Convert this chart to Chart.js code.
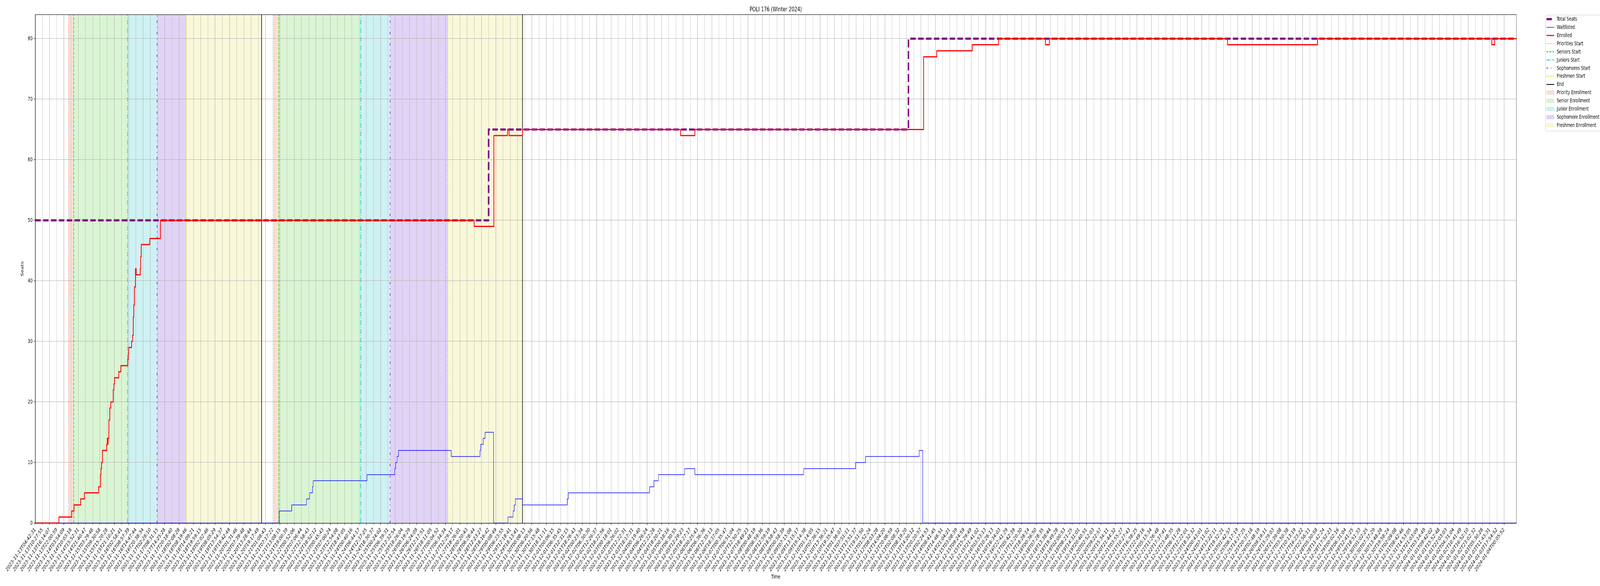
<!DOCTYPE html>
<html>
<head>
<meta charset="utf-8">
<title>POLI 176 (Winter 2024)</title>
<script src="https://cdn.jsdelivr.net/npm/chart.js@4.4.1/dist/chart.umd.min.js"></script>
<style>
  html, body { margin: 0; padding: 0; background: #ffffff; overflow: hidden; }
  #viewport { width: 100vw; height: 100vh; overflow: hidden; }
  #wrap { width: 6000px; height: 1500px; transform-origin: 0 0; }
</style>
</head>
<body>
<div id="viewport"><div id="wrap"><canvas id="seats-plot" width="6000" height="1500"></canvas></div></div>
<script>
const chartTitle = 'POLI 176 (Winter 2024)'

// one label per tick, ticks are evenly spaced (x = tick index)
const tickLabels = [
  '2023-11-13T04:42:31', '2023-11-13T10:27:55', '2023-11-13T16:14:07', '2023-11-13T22:00:59',
  '2023-11-14T03:54:09', '2023-11-14T10:03:18', '2023-11-14T15:52:31', '2023-11-14T21:40:47',
  '2023-11-15T03:29:46', '2023-11-15T09:30:58', '2023-11-15T15:20:28', '2023-11-15T21:10:21',
  '2023-11-16T02:58:41', '2023-11-16T08:57:39', '2023-11-16T14:47:44', '2023-11-16T20:38:34',
  '2023-11-17T02:28:10', '2023-11-17T08:31:15', '2023-11-17T14:25:28', '2023-11-17T20:18:40',
  '2023-11-18T02:08:28', '2023-11-18T08:19:46', '2023-11-18T14:09:21', '2023-11-18T19:59:15',
  '2023-11-19T02:02:46', '2023-11-19T08:05:29', '2023-11-19T13:54:37', '2023-11-19T19:42:49',
  '2023-11-20T01:31:46', '2023-11-20T07:39:48', '2023-11-20T13:28:44', '2023-11-20T19:17:49',
  '2023-11-21T01:08:43', '2023-11-21T07:17:22', '2023-11-21T13:08:15', '2023-11-21T19:00:39',
  '2023-11-22T00:52:06', '2023-11-22T07:06:44', '2023-11-22T12:58:43', '2023-11-22T18:52:12',
  '2023-11-23T00:45:43', '2023-11-23T07:00:24', '2023-11-23T12:54:08', '2023-11-23T18:47:05',
  '2023-11-24T00:40:16', '2023-11-24T06:44:17', '2023-11-24T12:37:25', '2023-11-24T18:30:37',
  '2023-11-25T00:24:02', '2023-11-25T06:39:31', '2023-11-25T12:32:54', '2023-11-25T18:26:04',
  '2023-11-26T00:19:29', '2023-11-26T06:24:09', '2023-11-26T12:17:51', '2023-11-26T18:11:05',
  '2023-11-27T00:04:52', '2023-11-27T06:34:34', '2023-11-27T12:29:17', '2023-11-27T18:26:01',
  '2023-11-28T00:20:43', '2023-11-28T06:28:44', '2023-11-28T12:23:27', '2023-11-28T18:16:42',
  '2023-11-29T00:08:49', '2023-11-29T06:23:55', '2023-11-29T12:18:41', '2023-11-29T18:13:41',
  '2023-11-30T00:08:13', '2023-11-30T06:20:56', '2023-11-30T12:15:48', '2023-11-30T18:11:11',
  '2023-12-01T00:06:15', '2023-12-01T06:35:45', '2023-12-01T12:31:15', '2023-12-01T18:26:43',
  '2023-12-02T00:23:34', '2023-12-02T06:30:30', '2023-12-02T12:26:37', '2023-12-02T18:22:56',
  '2023-12-03T00:18:01', '2023-12-03T06:26:02', '2023-12-03T12:22:31', '2023-12-03T18:17:31',
  '2023-12-04T00:19:40', '2023-12-04T06:26:24', '2023-12-04T12:22:28', '2023-12-04T18:20:21',
  '2023-12-05T00:18:16', '2023-12-05T06:30:55', '2023-12-05T12:29:23', '2023-12-05T18:27:17',
  '2023-12-06T00:25:43', '2023-12-06T06:36:36', '2023-12-06T12:35:13', '2023-12-06T18:37:05',
  '2023-12-07T00:35:47', '2023-12-07T06:51:04', '2023-12-07T12:50:25', '2023-12-07T18:49:23',
  '2023-12-08T00:48:19', '2023-12-08T06:59:36', '2023-12-08T12:59:19', '2023-12-08T18:58:43',
  '2023-12-09T00:58:39', '2023-12-09T07:15:08', '2023-12-09T13:15:17', '2023-12-09T19:14:38',
  '2023-12-10T01:14:05', '2023-12-10T07:36:15', '2023-12-10T13:36:21', '2023-12-10T19:35:47',
  '2023-12-11T01:36:07', '2023-12-11T07:51:11', '2023-12-11T13:51:37', '2023-12-11T19:51:50',
  '2023-12-12T01:52:24', '2023-12-12T08:03:28', '2023-12-12T14:04:20', '2023-12-12T20:06:59',
  '2023-12-13T02:08:32', '2023-12-13T08:19:20', '2023-12-13T14:20:12', '2023-12-13T20:20:57',
  '2023-12-14T02:24:53', '2023-12-14T08:41:45', '2023-12-14T14:46:51', '2023-12-14T21:04:21',
  '2023-12-15T03:08:39', '2023-12-15T09:24:59', '2023-12-15T15:29:49', '2023-12-15T21:41:02',
  '2023-12-16T03:53:13', '2023-12-16T10:26:13', '2023-12-16T16:34:03', '2023-12-16T22:41:29',
  '2023-12-17T05:42:39', '2023-12-17T12:20:30', '2023-12-17T18:28:14', '2023-12-18T00:36:50',
  '2023-12-18T07:28:35', '2023-12-18T13:38:44', '2023-12-18T19:49:28', '2023-12-19T02:00:53',
  '2023-12-19T08:21:25', '2023-12-19T14:31:01', '2023-12-19T20:40:51', '2023-12-20T02:52:03',
  '2023-12-20T09:22:57', '2023-12-20T15:34:11', '2023-12-20T21:44:32', '2023-12-21T03:55:27',
  '2023-12-21T10:27:43', '2023-12-21T16:38:25', '2023-12-21T22:49:16', '2023-12-22T05:15:34',
  '2023-12-22T11:26:48', '2023-12-22T17:37:41', '2023-12-22T23:48:35', '2023-12-23T06:11:28',
  '2023-12-23T12:22:01', '2023-12-23T18:32:32', '2023-12-24T00:43:01', '2023-12-24T07:11:02',
  '2023-12-24T13:22:11', '2023-12-24T19:32:21', '2023-12-25T01:42:57', '2023-12-25T08:17:19',
  '2023-12-25T14:27:25', '2023-12-25T20:37:18', '2023-12-26T02:48:19', '2023-12-26T09:19:11',
  '2023-12-26T15:29:03', '2023-12-26T21:39:08', '2023-12-27T03:50:38', '2023-12-27T10:13:19',
  '2023-12-27T16:23:22', '2023-12-27T22:56:11', '2023-12-28T05:30:58', '2023-12-28T11:42:24',
  '2023-12-28T17:52:23', '2023-12-29T00:02:16', '2023-12-29T06:31:04', '2023-12-29T12:41:25',
  '2023-12-29T18:51:33', '2023-12-30T01:02:25', '2023-12-30T07:37:29', '2023-12-30T13:48:28',
  '2023-12-30T19:58:24', '2023-12-31T02:09:08', '2023-12-31T08:42:46', '2023-12-31T14:53:05',
  '2023-12-31T21:03:09', '2024-01-01T03:14:49', '2024-01-01T09:42:02', '2024-01-01T15:52:48',
  '2024-01-01T22:03:03', '2024-01-02T04:31:04', '2024-01-02T10:41:49', '2024-01-02T16:52:10',
  '2024-01-02T23:02:32', '2024-01-03T05:30:28', '2024-01-03T11:43:31', '2024-01-03T17:54:52',
  '2024-01-04T00:05:52', '2024-01-04T06:41:22'
]

// step series: value becomes Y at position X (x in tick index units)
const totalSeatsX = [0, 62.97, 121.28, 205.7]
const totalSeatsY = [50, 65, 80, 80]

const enrolledX = [0, 3.29, 5.07, 5.39, 6.31, 6.84, 8.81, 9.07, 9.14, 9.21, 9.34, 9.92, 10.0, 10.06, 10.12, 10.23,
  10.36, 10.49, 10.83, 10.93, 11.02, 11.61, 11.89, 12.85, 12.93, 12.99, 13.38, 13.52, 13.62, 13.69, 13.78, 13.93,
  14.03, 14.59, 14.65, 14.73, 15.92, 17.39, 60.97, 63.70, 65.60, 65.81, 67.68, 89.63, 91.62, 123.38, 125.2,
  130.15, 133.8, 140.3, 140.85, 165.6, 178.1, 202.3, 202.7, 205.7]
const enrolledY = [0, 1, 2, 3, 4, 5, 6, 8, 9, 10, 12, 13, 14, 13, 14, 17,
  19, 20, 22, 23, 24, 25, 26, 27, 28, 29, 30, 31, 34, 36, 39, 42,
  41, 42, 44, 46, 47, 50, 49, 64, 65, 64, 65, 64, 65, 77, 78,
  79, 80, 79, 80, 79, 80, 79, 80, 80]

const waitlistedX = [0, 33.88, 35.62, 37.68, 38.12, 38.51, 38.61, 46.09, 49.94, 50.06, 50.25, 50.45, 57.78,
  61.78, 61.88, 62.22, 62.48, 63.65, 65.65, 66.38, 66.53, 66.69, 67.68, 73.89, 74.03, 85.33, 85.93, 86.56,
  90.2, 91.62, 106.73, 113.94, 115.33, 122.77, 123.26, 205.7]
const waitlistedY = [0, 2, 3, 4, 5, 6, 7, 8, 9, 10, 11, 12, 11,
  12, 13, 14, 15, 0, 1, 2, 3, 4, 3, 4, 5, 6, 7, 8,
  9, 8, 9, 10, 11, 12, 0, 0]

// enrollment phase boundaries, one entry per enrollment pass
const prioritiesStart = [4.65, 33.13]
const seniorsStart = [5.35, 33.83]
const juniorsStart = [12.82, 45.21]
const sophomoresStart = [16.92, 49.29]
const freshmenStart = [20.96, 57.29]
const enrollmentEnd = [31.44, 67.68]

const phaseLineNames = ['Priorities Start', 'Seniors Start', 'Juniors Start', 'Sophomores Start', 'Freshmen Start', 'End']
const phaseSpanNames = ['Priority Enrollment', 'Senior Enrollment', 'Junior Enrollment', 'Sophomore Enrollment', 'Freshmen Enrollment']

const xMax = 205.7
const yMax = 84

const phaseLineStyles = [
  {color: '#ee6a30', dash: [2.1, 3.4]},
  {color: '#33cc11', dash: [7.7, 3.3]},
  {color: '#00c5cd', dash: [13.3, 3.3, 2.1, 3.3]},
  {color: '#6a2ad6', dash: [6.2, 10.4, 2.1, 10.4]},
  {color: '#dede2a', dash: [6.2, 2.1, 2.1, 2.1]},
  {color: '#000000', dash: []}
]
const phaseSpanFills = ['#f7e0d5', '#daf5d3', '#cef1f3', '#e1d3f5', '#f8f8da']
const phaseSpanEdges = ['#f1cdbb', '#c4eeb8', '#b4e8eb', '#d3bdf0', '#f0f0c0']

// the figure is laid out on a 6000x1500 sheet, then fitted to the window
const sheetW = 6000
const sheetH = 1500
const fitX = window.innerWidth / sheetW
const fitY = window.innerHeight / sheetH
document.getElementById('wrap').style.transform = 'scale(' + fitX + ',' + fitY + ')'

function pts(xs, ys) {
  return xs.map((x, i) => ({x: x, y: ys[i]}))
}

function stepSet(label, xs, ys, color, width, dash, order, rank) {
  return {
    label: label, data: pts(xs, ys), stepped: true,
    borderColor: color, borderWidth: width, borderDash: dash,
    borderJoinStyle: 'round', borderCapStyle: 'butt',
    pointRadius: 0, fill: false, order: order, legendRank: rank, legendKind: 'line'
  }
}

function build_datasets() {
  let sets = []
  sets.push(stepSet('Enrolled', enrolledX, enrolledY, '#ff0000', 2.8, [], 0, 2))
  sets.push(stepSet('Waitlisted', waitlistedX, waitlistedY, '#0000ff', 1.4, [], 1, 1))
  sets.push(stepSet('Total Seats', totalSeatsX, totalSeatsY, '#800080', 5.56, [20.6, 8.9], 2, 0))

  const bounds = [prioritiesStart, seniorsStart, juniorsStart, sophomoresStart, freshmenStart, enrollmentEnd]
  bounds.forEach((xs, k) => {
    xs.forEach((x, i) => {
      sets.push({
        label: phaseLineNames[k], data: [{x: x, y: 0}, {x: x, y: yMax}],
        borderColor: phaseLineStyles[k].color, borderWidth: 2.1, borderDash: phaseLineStyles[k].dash,
        borderCapStyle: 'butt', pointRadius: 0, fill: false, order: 3,
        legendRank: i === 0 ? 3 + k : undefined, legendKind: 'line'
      })
    })
  })
  for (let k = 0; k < phaseSpanNames.length; k++) {
    bounds[k].forEach((x0, i) => {
      const x1 = bounds[k + 1][i]
      sets.push({
        label: phaseSpanNames[k], data: [{x: x0, y: yMax}, {x: x1, y: yMax}],
        borderWidth: 0, borderColor: 'rgba(0,0,0,0)', backgroundColor: phaseSpanFills[k],
        legendEdge: phaseSpanEdges[k], pointRadius: 0, fill: 'origin', order: 4,
        legendRank: i === 0 ? 9 + k : undefined, legendKind: 'patch'
      })
    })
  }
  return sets
}

// spines, title and the outside legend, drawn like the original figure
const figure_decor = {
  id: 'figure_decor',
  afterDraw(chart) {
    const ctx = chart.ctx
    const a = chart.chartArea
    ctx.save()
    ctx.strokeStyle = '#000000'
    ctx.lineWidth = 1.1
    ctx.setLineDash([])
    ctx.strokeRect(Math.round(a.left) + 0.5, Math.round(a.top) + 0.5, Math.round(a.right - a.left), Math.round(a.bottom - a.top))

    ctx.fillStyle = '#000000'
    ctx.font = '16.7px "DejaVu Sans"'
    ctx.textAlign = 'center'
    ctx.textBaseline = 'alphabetic'
    ctx.fillText(chartTitle, (a.left + a.right) / 2, a.top - 8.5)

    const items = chart.data.datasets.filter(d => d.legendRank !== undefined).sort((p, q) => p.legendRank - q.legendRank)
    const left = a.right + 109
    const top = a.top + 1
    const rowH = 20.9
    ctx.beginPath()
    ctx.roundRect(left + 0.5, top + 0.5, 225, 297, 3)
    ctx.fillStyle = 'rgba(255,255,255,0.8)'
    ctx.fill()
    ctx.strokeStyle = '#cccccc'
    ctx.lineWidth = 1
    ctx.stroke()

    ctx.font = '13.9px "DejaVu Sans"'
    ctx.textAlign = 'left'
    ctx.textBaseline = 'middle'
    items.forEach((d, i) => {
      const cy = top + 11 + i * rowH
      if (d.legendKind === 'patch') {
        ctx.fillStyle = d.backgroundColor
        ctx.fillRect(left + 4, cy - 4.9, 29, 9.7)
        ctx.strokeStyle = d.legendEdge
        ctx.lineWidth = 1
        ctx.setLineDash([])
        ctx.strokeRect(left + 4.5, cy - 4.4, 28, 8.7)
      } else {
        ctx.beginPath()
        ctx.strokeStyle = d.borderColor
        ctx.lineWidth = d.borderWidth
        ctx.lineCap = 'butt'
        ctx.setLineDash(d.borderDash || [])
        ctx.moveTo(left + 4, cy)
        ctx.lineTo(left + 33, cy)
        ctx.stroke()
      }
      ctx.setLineDash([])
      ctx.fillStyle = '#000000'
      ctx.fillText(d.label, left + 43, cy + 0.5)
    })
    ctx.restore()
  }
}

function define_chart_defaults() {
  Chart.defaults.font.family = '"DejaVu Sans", sans-serif'
  Chart.defaults.font.size = 13.9
  Chart.defaults.color = '#000000'
  Chart.defaults.animation = false
  Chart.defaults.plugins.legend.display = false
  Chart.defaults.plugins.tooltip.enabled = false
}

function create_seats_chart() {
  const ctx = document.getElementById('seats-plot')
  return new Chart(ctx, {
    type: 'line',
    data: {datasets: build_datasets()},
    options: {
      responsive: false,
      devicePixelRatio: (window.devicePixelRatio || 1) * Math.max(fitX, fitY, 1),
      events: [],
      layout: {padding: {left: 72, right: 314, top: 37, bottom: 10}},
      plugins: {
        filler: {drawTime: 'beforeDraw'},
        title: {display: false}
      },
      scales: {
        x: {
          type: 'linear', min: 0, max: xMax,
          border: {display: false},
          grid: {
            color: c => Number.isInteger(c.tick.value) ? '#b0b0b0' : 'rgba(0,0,0,0)',
            tickColor: c => Number.isInteger(c.tick.value) ? '#000000' : 'rgba(0,0,0,0)',
            lineWidth: 1.1, tickLength: 5, tickWidth: 1.1
          },
          ticks: {
            stepSize: 1, autoSkip: false, minRotation: 45, maxRotation: 45, padding: 4,
            callback: v => Number.isInteger(v) ? tickLabels[v] : ''
          },
          title: {display: true, text: 'Time', padding: {top: 4, bottom: 4}},
          afterFit: s => { s.height = 151 }
        },
        y: {
          type: 'linear', min: 0, max: yMax,
          border: {display: false},
          grid: {
            color: c => c.tick.value % 10 === 0 ? '#b0b0b0' : 'rgba(0,0,0,0)',
            tickColor: c => c.tick.value % 10 === 0 ? '#000000' : 'rgba(0,0,0,0)',
            lineWidth: 1.1, tickLength: 5, tickWidth: 1.1
          },
          ticks: {
            stepSize: 10, padding: 5,
            callback: v => v % 10 === 0 ? String(v) : ''
          },
          title: {display: true, text: 'Seats', padding: {top: 4, bottom: 4}},
          afterFit: s => { s.width = 60 }
        }
      }
    },
    plugins: [figure_decor]
  })
}

define_chart_defaults()
let seats_chart = create_seats_chart()
</script>
</body>
</html>
